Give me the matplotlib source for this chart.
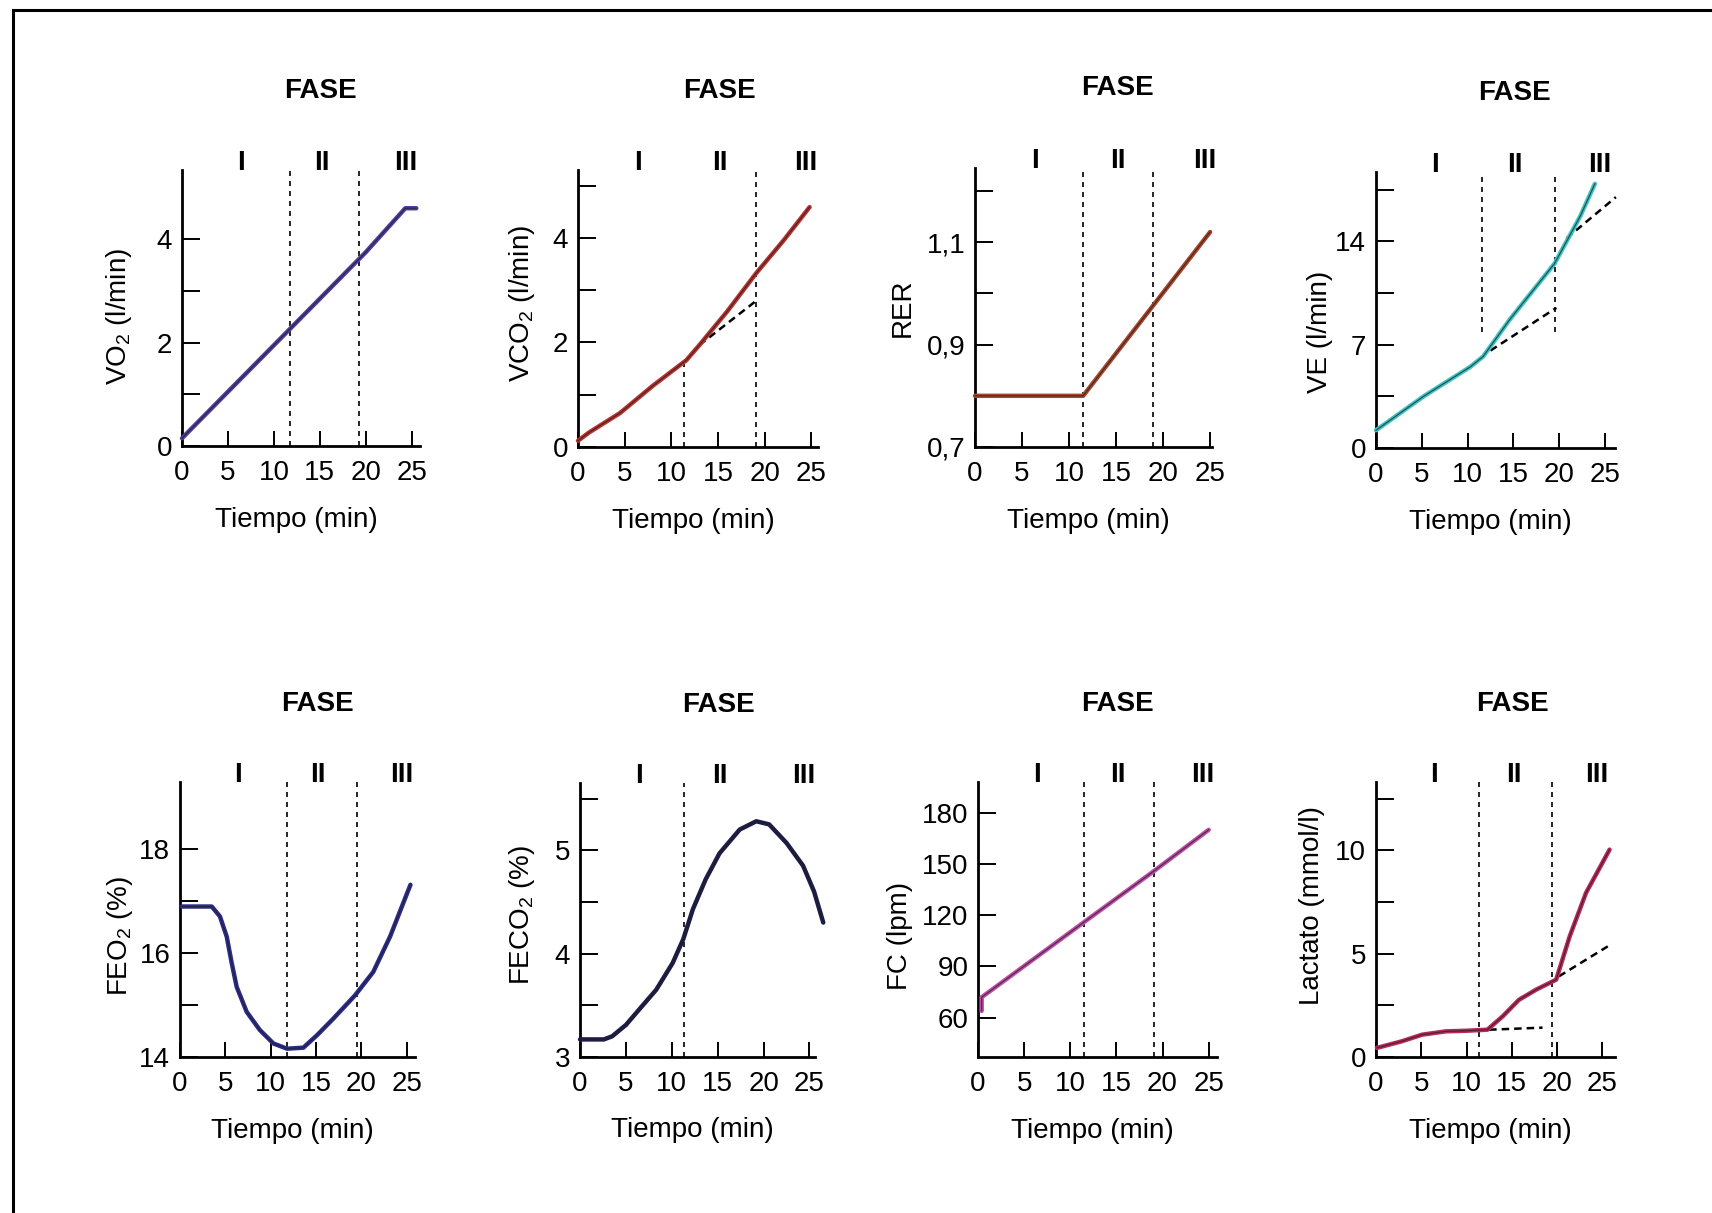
import matplotlib
matplotlib.use('Agg')
import matplotlib.pyplot as plt
from matplotlib.patches import Rectangle

plt.rcParams['font.family'] = ['Liberation Sans', 'DejaVu Sans']
plt.rcParams['mathtext.fontset'] = 'custom'
plt.rcParams['mathtext.rm'] = 'Liberation Sans'
plt.rcParams['mathtext.default'] = 'regular'

# --- data (time in min) ---
vo2_t = [0, 5, 10, 15, 20, 24.3, 25.5]
vo2 = [0.15, 1.05, 1.95, 2.85, 3.75, 4.6, 4.6]

vco2_t = [0, 1.2, 4.5, 8, 11.6, 13, 16, 19.1, 22, 24.8]
vco2 = [0.12, 0.28, 0.65, 1.17, 1.66, 1.95, 2.6, 3.33, 3.95, 4.59]
vco2_dash_t = [13, 19.1]
vco2_dash = [1.95, 2.8]

rer_t = [0, 11.5, 25]
rer = [0.80, 0.80, 1.12]

ve_t = [0, 5.2, 10.3, 11.7, 14.6, 19.5, 22.3, 23.9]
ve = [1.2, 3.5, 5.5, 6.2, 8.7, 12.5, 15.7, 17.9]
ve_dash1_t = [12.5, 19.7]
ve_dash1 = [6.6, 9.5]
ve_dash2_t = [20.8, 26.2]
ve_dash2 = [14.2, 17.0]

feo2_t = [0.2, 3.5, 4.4, 5.15, 5.7, 6.25, 7.35, 8.8, 10.3, 11.8, 13.6, 15.1, 16.9, 19.3, 21.3, 23.15, 25.4]
feo2 = [16.9, 16.9, 16.71, 16.32, 15.81, 15.35, 14.87, 14.52, 14.26, 14.16, 14.18, 14.42, 14.74, 15.19, 15.64, 16.32, 17.32]

feco2_t = [0, 2.6, 3.5, 5, 6.45, 8.3, 10.1, 11.25, 12.3, 13.7, 15.2, 17.4, 19.2, 20.6, 22.5, 24.3, 25.5, 26.5]
feco2 = [3.17, 3.17, 3.2, 3.31, 3.46, 3.65, 3.91, 4.14, 4.43, 4.72, 4.97, 5.2, 5.28, 5.25, 5.07, 4.85, 4.6, 4.3]

fc_t = [0.4, 0.4, 11.5, 19.1, 25]
fc = [64, 72, 116, 146, 170]

lac_t = [0.1, 2.85, 5.1, 7.7, 10, 12.3, 14, 15.8, 17.7, 19.9, 21.4, 23.2, 25.8]
lac = [0.44, 0.76, 1.08, 1.24, 1.27, 1.32, 1.97, 2.77, 3.26, 3.74, 5.84, 7.94, 10.03]
lac_dash1_t = [12.5, 18.4]
lac_dash1 = [1.32, 1.42]
lac_dash2_t = [20.2, 25.6]
lac_dash2 = [3.9, 5.35]

x_ticks = [0, 5, 10, 15, 20, 25]
phase_names = ['I', 'II', 'III']
phase_x = [6.4, 15.2, 24.4]

W, H = 1712, 1213

panels = [
    dict(t=vo2_t, v=vo2, color='#4f3c9e', ylabel='VO$_2$ (l/min)', ylim=(0, 5.34),
         yticks=[0, 1, 2, 3, 4], ylabels=['0', '', '2', '', '4'], xmax=25.9,
         vlines=[(11.7, 0, 1), (19.3, 0, 1)], dashes=[],
         box=(182, 420, 170, 446), ylab=(48, 0.47)),
    dict(t=vco2_t, v=vco2, color='#b8322e', ylabel='VCO$_2$ (l/min)', ylim=(0, 5.3),
         yticks=[0, 1, 2, 3, 4, 5], ylabels=['0', '', '2', '', '4', ''], xmax=25.7,
         vlines=[(11.3, 0, 0.3), (19.1, 0, 1)], dashes=[(vco2_dash_t, vco2_dash)],
         box=(578, 818, 170, 447), ylab=(41, 0.52)),
    dict(t=rer_t, v=rer, color='#a8452c', ylabel='RER', ylim=(0.7, 1.245),
         yticks=[0.7, 0.8, 0.9, 1.0, 1.1, 1.2], ylabels=['0,7', '', '0,9', '', '1,1', ''], xmax=25.2,
         vlines=[(11.5, 0, 1), (18.95, 0, 1)], dashes=[],
         box=(975, 1212, 168, 447), ylab=(59, 0.5)),
    dict(t=ve_t, v=ve, color='#3cc4c4', ylabel='VE (l/min)', ylim=(0, 18.7),
         yticks=[0, 3.5, 7, 10.5, 14, 17.5], ylabels=['0', '', '7', '', '14', ''], xmax=26.1,
         vlines=[(11.6, 0.42, 1), (19.6, 0.42, 1)],
         dashes=[(ve_dash1_t, ve_dash1), (ve_dash2_t, ve_dash2)],
         box=(1376, 1615, 172, 448), ylab=(43, 0.42)),
    dict(t=feo2_t, v=feo2, color='#2b2b8c', ylabel='FEO$_2$ (%)', ylim=(14, 19.3),
         yticks=[14, 15, 16, 17, 18], ylabels=['14', '', '16', '', '18'], xmax=25.9,
         vlines=[(11.76, 0, 1), (19.5, 0, 1)], dashes=[],
         box=(180, 415, 782, 1057), ylab=(45, 0.44)),
    dict(t=feco2_t, v=feco2, color='#1c1c4a', ylabel='FECO$_2$ (%)', ylim=(3, 5.65),
         yticks=[3, 3.5, 4, 4.5, 5, 5.5], ylabels=['3', '', '4', '', '5', ''], xmax=25.6,
         vlines=[(11.36, 0, 1)], dashes=[],
         box=(580, 815, 783, 1057), ylab=(43, 0.52)),
    dict(t=fc_t, v=fc, color='#c04ca8', ylabel='FC (lpm)', ylim=(37, 198),
         yticks=[60, 90, 120, 150, 180], ylabels=['60', '90', '120', '150', '180'], xmax=25.9,
         vlines=[(11.5, 0, 1), (19.1, 0, 1)], dashes=[],
         box=(978, 1217, 782, 1057), ylab=(65, 0.44)),
    dict(t=lac_t, v=lac, color='#b8285a', ylabel='Lactato (mmol/l)', ylim=(0, 13.3),
         yticks=[0, 2.5, 5, 7.5, 10, 12.5], ylabels=['0', '', '5', '', '10', ''], xmax=26.4,
         vlines=[(11.4, 0, 1), (19.4, 0, 1)],
         dashes=[(lac_dash1_t, lac_dash1), (lac_dash2_t, lac_dash2)],
         box=(1376, 1615, 782, 1057), ylab=(51, 0.55)),
]

fig = plt.figure(figsize=(W / 100, H / 100), dpi=100)

for p in panels:
    l, r, top, bot = p['box']
    ax = fig.add_axes([l / W, 1 - bot / H, (r - l) / W, (bot - top) / H])
    ax.set_xlim(0, p['xmax'])
    ax.set_ylim(*p['ylim'])

    # curve: coloured band with a dark core, as in the printed figure
    ax.plot(p['t'], p['v'], color=p['color'], lw=3.2, solid_capstyle='round', clip_on=False, zorder=3)
    ax.plot(p['t'], p['v'], color='#202020', lw=0.9, alpha=0.7, clip_on=False, zorder=4)
    for xs, ys in p['dashes']:
        ax.plot(xs, ys, color='black', lw=1.8, ls=(0, (3, 2)), clip_on=False, zorder=2)

    for x, y0, y1 in p['vlines']:
        ax.axvline(x, ymin=y0, ymax=y1, color='black', lw=1.2, ls=(0, (3, 3)), zorder=1)

    for spine in ['top', 'right']:
        ax.spines[spine].set_visible(False)
    for spine in ['left', 'bottom']:
        ax.spines[spine].set_linewidth(2.0)

    ax.set_xticks(x_ticks)
    ax.set_yticks(p['yticks'])
    ax.set_yticklabels(p['ylabels'])
    ax.tick_params(axis='x', direction='in', length=11, width=1.4, pad=10, labelsize=20)
    ax.tick_params(axis='y', direction='in', length=13, width=1.4, pad=7, labelsize=20)

    ax.set_xlabel('Tiempo (min)', fontsize=20)
    ax.xaxis.set_label_coords(0.48, -0.22)
    ax.set_ylabel(p['ylabel'], fontsize=20)
    ax.yaxis.set_label_coords(-p['ylab'][0] / (r - l), p['ylab'][1])

    tr = ax.get_xaxis_transform()
    for name, x in zip(phase_names, phase_x):
        ax.text(x, 1.025, name, transform=tr, ha='center', va='center',
                fontsize=20, fontweight='bold')
    ax.text(15.1, 1.285, 'FASE', transform=tr, ha='center', va='center',
            fontsize=20, fontweight='bold')

# scanned page frame (left and top edges)
fig.add_artist(Rectangle((13 / W, -0.1), 1.2, 1.1 - 10 / H, transform=fig.transFigure,
                         fill=False, lw=2.2, ec='black'))

fig.savefig('out.png', dpi=100, facecolor='white')
